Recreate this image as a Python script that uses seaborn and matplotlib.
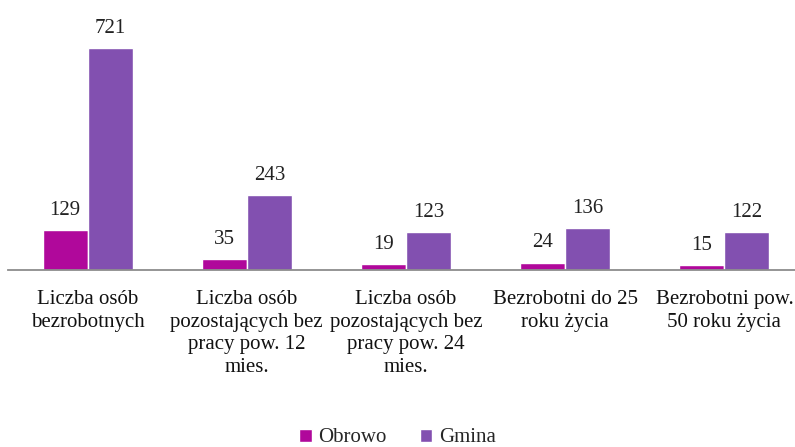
import matplotlib
matplotlib.use("Agg")
import matplotlib.pyplot as plt
import seaborn as sns
import pandas as pd
import numpy as np

categories = [
    "Liczba osób\nbezrobotnych",
    "Liczba osób\npozostających bez\npracy pow. 12\nmies.",
    "Liczba osób\npozostających bez\npracy pow. 24\nmies.",
    "Bezrobotni do 25\nroku życia",
    "Bezrobotni pow.\n50 roku życia",
]
series_names = ["Obrowo", "Gmina"]
obrowo = [129, 35, 19, 24, 15]
gmina = [721, 243, 123, 136, 122]
colors = ["#B0089B", "#8250B0"]

df = pd.DataFrame({
    "kategoria": categories * 2,
    "seria": [series_names[0]] * len(categories) + [series_names[1]] * len(categories),
    "wartosc": obrowo + gmina,
})

sns.set_theme(style="white")
plt.rcParams["font.family"] = ["Liberation Serif", "DejaVu Serif"]

W, H = 795, 447
fig = plt.figure(figsize=(W / 100, H / 100), dpi=100)
left_px, right_px, base_px, top_px = 8, 804, 270, 23.6
ax = fig.add_axes([left_px / W, (H - base_px) / H, (right_px - left_px) / W, (base_px - top_px) / H])

sns.barplot(data=df, x="kategoria", y="wartosc", hue="seria", palette=colors,
            width=0.566, saturation=1, ax=ax, legend=True)
ax.set_ylim(0, 800)
ax.set_xlim(-0.5, len(categories) - 0.5)

for cont in ax.containers:
    ax.bar_label(cont, padding=7.5, fontsize=15, color="#222222")

for s in ["top", "right", "left"]:
    ax.spines[s].set_visible(False)
ax.spines["bottom"].set_color("#8c8c8c")
ax.spines["bottom"].set_linewidth(1.3)
ax.set_yticks([])
ax.set_xlabel("")
ax.set_ylabel("")
ax.set_xticks(range(len(categories)))
ax.set_xticklabels(categories, fontsize=15, color="#111111", linespacing=1.25)
ax.tick_params(axis="x", which="major", length=0, pad=14.5)
ax.set_xticks(np.arange(-0.5, len(categories), 1.0), minor=True)
ax.tick_params(axis="x", which="minor", length=6, width=1.3, color="#8c8c8c", direction="out")

handles, labels = ax.get_legend_handles_labels()
ax.legend(handles, labels, loc="center",
          bbox_to_anchor=((397.5 - left_px) / (right_px - left_px), -(438 - base_px) / (base_px - top_px)),
          ncol=2, frameon=False, fontsize=15, handlelength=0.6, handleheight=0.6,
          handletextpad=0.3, columnspacing=1.6)

fig.savefig("out.png", dpi=100)
